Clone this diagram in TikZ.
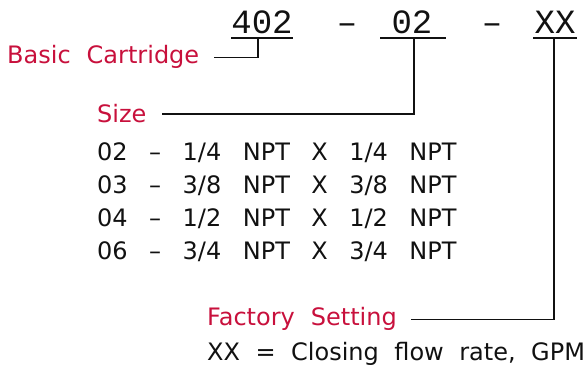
\documentclass[tikz,border=0pt]{standalone}
\usepackage{fontspec}
\newfontfamily\cadfont{DejaVu Sans}
\newfontfamily\codefont{Liberation Mono}
\definecolor{LabelRed}{HTML}{C8103C}
\definecolor{NiceBlack}{HTML}{111111}
\newcommand\labelfont{\cadfont\fontsize{24}{28}\selectfont\spaceskip=16pt\relax}
\newcommand\rowsfont{\cadfont\fontsize{24}{28}\selectfont\spaceskip=21.5pt\relax}
\newcommand\notesfont{\cadfont\fontsize{24}{28}\selectfont\spaceskip=15.5pt\relax}

\begin{document}
\begin{tikzpicture}[x=1pt, y=-1pt,
    redlabel/.style={font=\labelfont, text=LabelRed, inner sep=0pt,
      anchor=base west},
    infotext/.style={font=\rowsfont, text=NiceBlack, inner sep=0pt,
      anchor=base west},
    notetext/.style={infotext, font=\notesfont},
    codepart/.style={font=\codefont\fontsize{34}{40}\selectfont, text=NiceBlack,
      inner sep=0pt, anchor=base},
    leader/.style={line width=1.6pt, NiceBlack}]
  \useasboundingbox (0,0) rectangle (587,366);
  % Model code
  \node[codepart] (c402) at (262,34) {402};
  \node[codepart] (d1) at (347,34) {–};
  \node[codepart] (c02) at (412,34) {02};
  \node[codepart] (d2) at (492,34) {–};
  \node[codepart] (cxx) at (555,34) {XX};
  % underlines
  \coordinate (u402) at (258,38);
  \coordinate (u02) at (414,38);
  \coordinate (uxx) at (554,38);
  \draw[leader] (231,38) -- (293,38);
  \draw[leader] (380,38) -- (446,38);
  \draw[leader] (533,38) -- (577,38);
  % Labels
  \node[redlabel] (cart) at (7,64) {Basic Cartridge};
  \node[redlabel] (size) at (97,123) {Size};
  \node[redlabel] (fact) at (207,326) {Factory Setting};
  % size table
  \foreach \code/\port [count=\i from 0] in {02/1\slash 4, 03/3\slash 8,
      04/1\slash 2, 06/3\slash 4}
    \node[infotext] (row\i) at (97,161+33*\i) {\code{} – \port{} NPT X \port{} NPT};
  \node[notetext] (flow) at (207,360) {XX = Closing flow rate, GPM};
  % leaders
  \draw[leader] (u402) |- ([xshift=15pt]cart.east);
  \draw[leader] (u02) |- ([xshift=15pt]size.east);
  \draw[leader] (uxx) |- ([xshift=14pt]fact.east);
\end{tikzpicture}
\end{document}
